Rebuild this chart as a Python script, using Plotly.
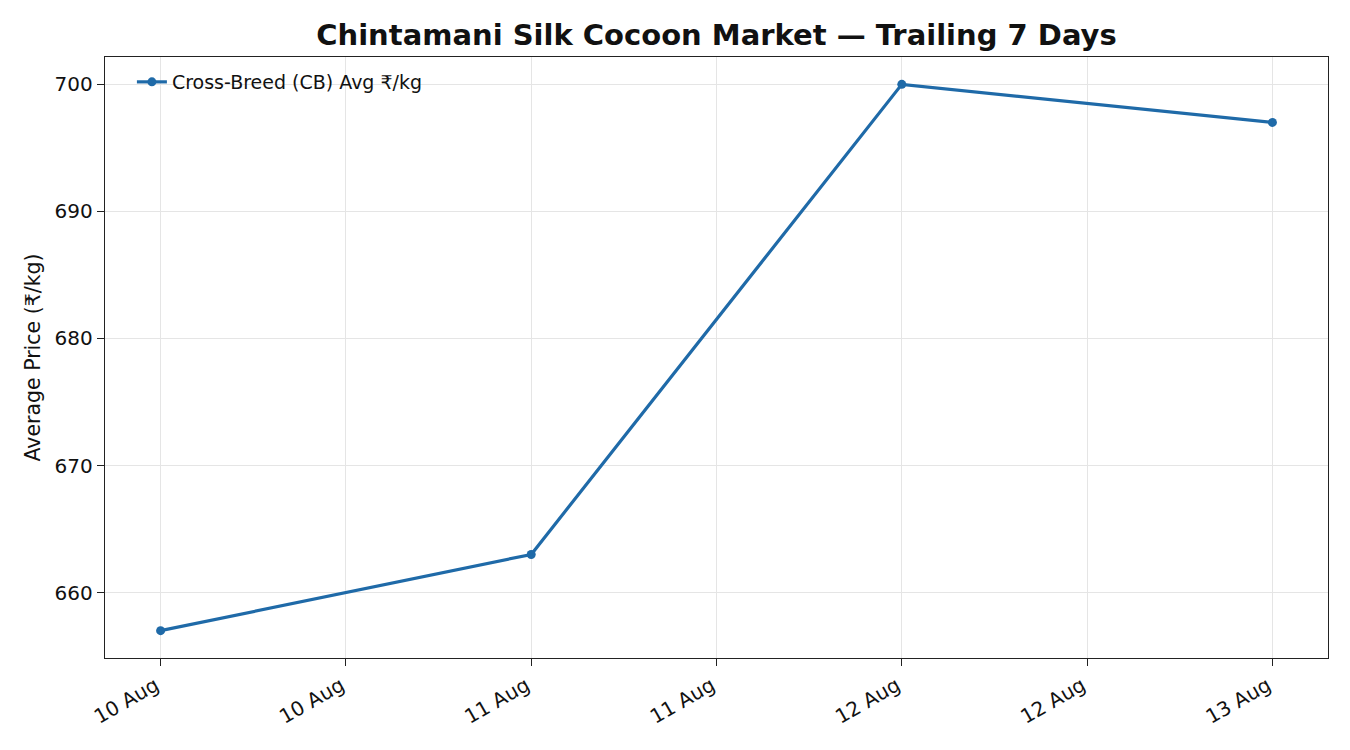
import plotly.graph_objects as go
import pandas as pd

dates = ["2024-08-10", "2024-08-11", "2024-08-12", "2024-08-13"]
prices = [657, 663, 700, 697]
series_name = "Cross-Breed (CB) Avg ₹/kg"
title = "Chintamani Silk Cocoon Market — Trailing 7 Days"
y_title = "Average Price (₹/kg)"
y_ticks = [660, 670, 680, 690, 700]

d = pd.to_datetime(dates)
tick_times = pd.date_range(d.min(), d.max(), freq="12h")
tick_text = [t.strftime("%d %b") for t in tick_times]

span = d.max() - d.min()
pad = span * 0.05
ypad = (max(prices) - min(prices)) * 0.05

fig = go.Figure()
fig.add_trace(go.Scatter(
    x=d, y=prices, mode="lines+markers", name=series_name,
    line=dict(color="#1f6aa8", width=3.2),
    marker=dict(color="#1f6aa8", size=9),
))

axis_common = dict(
    showline=True, linecolor="#222222", linewidth=1.4, mirror=True,
    showgrid=True, gridcolor="#e5e5e5", gridwidth=1,
    ticks="outside", ticklen=7, tickwidth=1.4, tickcolor="#222222",
    zeroline=False, automargin=False,
    tickfont=dict(family="DejaVu Sans", size=20, color="#111111"),
)

fig.update_layout(
    width=1350, height=750,
    paper_bgcolor="white", plot_bgcolor="white",
    margin=dict(l=97, r=30, t=49, b=100),
    font=dict(family="DejaVu Sans", color="#111111"),
    title=dict(text="<b>" + title + "</b>", x=0.5, xanchor="center",
               xref="paper",
               y=0.964, yanchor="middle",
               font=dict(family="DejaVu Sans", size=29, color="#111111")),
    showlegend=True,
    legend=dict(x=0.022, y=0.99, xanchor="left", yanchor="top",
                bgcolor="rgba(255,255,255,0)", borderwidth=0,
                font=dict(family="DejaVu Sans", size=19, color="#111111")),
    xaxis=dict(type="date", range=[d.min() - pad, d.max() + pad],
               tickvals=tick_times, ticktext=tick_text, tickangle=-30,
               ticklabelshift=-5,
               **axis_common),
    yaxis=dict(range=[min(prices) - ypad, max(prices) + ypad],
               tickvals=y_ticks,
               title=dict(text=y_title, font=dict(family="DejaVu Sans", size=20.5), standoff=8),
               **axis_common),
)

fig.write_html("out.html")
